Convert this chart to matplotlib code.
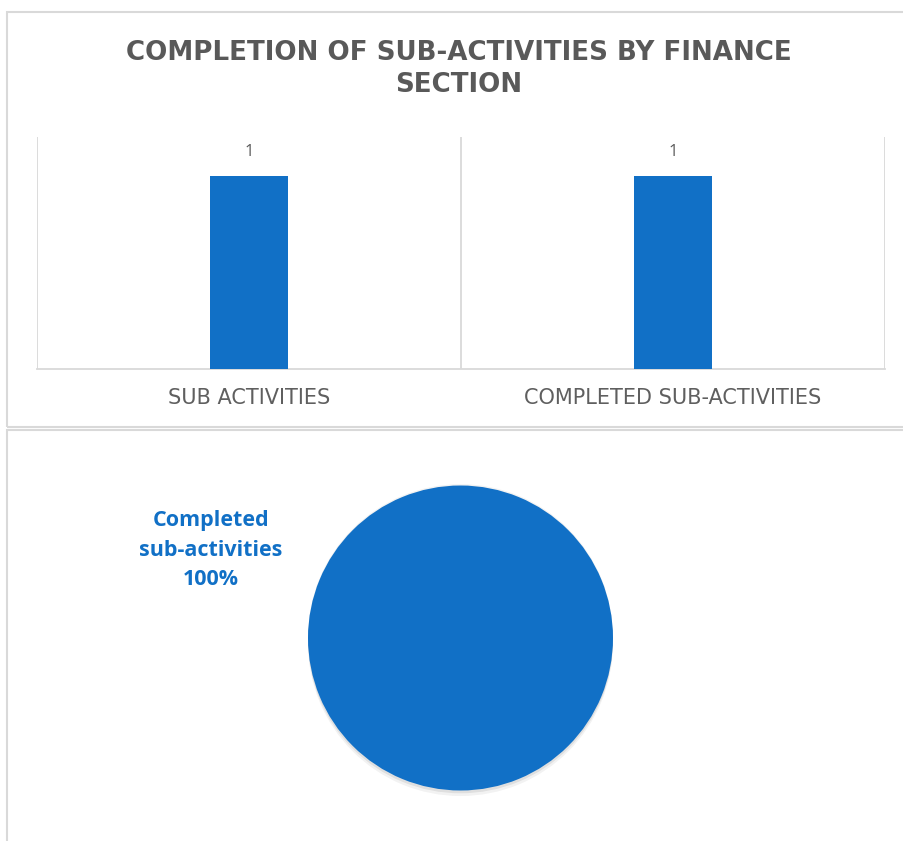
import matplotlib
matplotlib.use("Agg")
from matplotlib import pyplot as plt
from matplotlib.patches import Rectangle
import matplotlib.patheffects as pe
import numpy as np

# data
categories = ["SUB ACTIVITIES", "COMPLETED SUB-ACTIVITIES"]
counts = [1, 1]
pie_labels = ["Completed\nsub-activities"]
pie_values = [1]
title = "COMPLETION OF SUB-ACTIVITIES BY FINANCE\nSECTION"

BLUE = "#1170C6"
GRAY_TXT = "#595959"
GRID = "#D9D9D9"

W, H = 904, 841
plt.rcParams['font.family'] = ['Open Sans', 'DejaVu Sans']


def fx(px):
    return px / W


def fy(py):
    return 1 - py / H


fig = plt.figure(figsize=(W / 100, H / 100), dpi=100)
fig.patch.set_facecolor("white")

# panel borders
fig.patches.append(Rectangle((fx(7), fy(427)), fx(910) - fx(7), fy(12) - fy(427),
                             transform=fig.transFigure, fill=False,
                             edgecolor=GRID, linewidth=1.5))
fig.patches.append(Rectangle((fx(7), fy(860)), fx(910) - fx(7), fy(430) - fy(860),
                             transform=fig.transFigure, fill=False,
                             edgecolor=GRID, linewidth=1.5))

fig.text(fx(459), fy(69), title, ha="center", va="center", fontsize=18.8,
         fontweight="bold", color=GRAY_TXT, linespacing=1.25,
         family=["DejaVu Sans"])

# bar chart
ax = fig.add_axes([fx(37), fy(369), fx(885) - fx(37), fy(137) - fy(369)])
x = np.arange(len(categories))
bars = ax.bar(x, counts, width=0.184, color=BLUE, zorder=3)
ax.set_xlim(-0.5, len(categories) - 0.5)
ax.set_ylim(0, 1.2)
for b in np.arange(len(categories) + 1) - 0.5:
    ax.axvline(b, color=GRID, linewidth=1.3, zorder=1)
for s in ["top", "left", "right"]:
    ax.spines[s].set_visible(False)
ax.spines["bottom"].set_color(GRID)
ax.spines["bottom"].set_linewidth(1.3)
ax.set_yticks([])
ax.set_xticks(x)
ax.set_xticklabels(categories, fontsize=15, color="#5f5f5f", family=["DejaVu Sans"])
ax.tick_params(axis="x", length=0, pad=14)
for rect, v in zip(bars, counts):
    ax.annotate(str(v), (rect.get_x() + rect.get_width() / 2, v),
                xytext=(0, 17), textcoords="offset points",
                ha="center", va="center", fontsize=12, color=GRAY_TXT)

# pie chart
pax = fig.add_axes([fx(308), fy(790.5), fx(613) - fx(308), fy(485.5) - fy(790.5)])
wedges, _ = pax.pie(pie_values, colors=[BLUE], startangle=90, counterclock=False,
                    wedgeprops=dict(linewidth=0))
for w in wedges:
    w.set_path_effects([
        pe.SimplePatchShadow(offset=(0, -4), shadow_rgbFace="black", alpha=0.05),
        pe.SimplePatchShadow(offset=(0, -2), shadow_rgbFace="black", alpha=0.08),
        pe.SimplePatchShadow(offset=(0, 1), shadow_rgbFace="black", alpha=0.05),
        pe.Normal()])
pax.set_xlim(-1, 1)
pax.set_ylim(-1, 1)
pax.set_aspect("equal")
pax.axis("off")

share = 100 * pie_values[0] / sum(pie_values)
fig.text(fx(211), fy(550), f"{pie_labels[0]}\n{share:.0f}%", ha="center", va="center",
         fontsize=15.5, fontweight="bold", color=BLUE, linespacing=1.55)

fig.savefig("out.png", dpi=100, facecolor="white")
